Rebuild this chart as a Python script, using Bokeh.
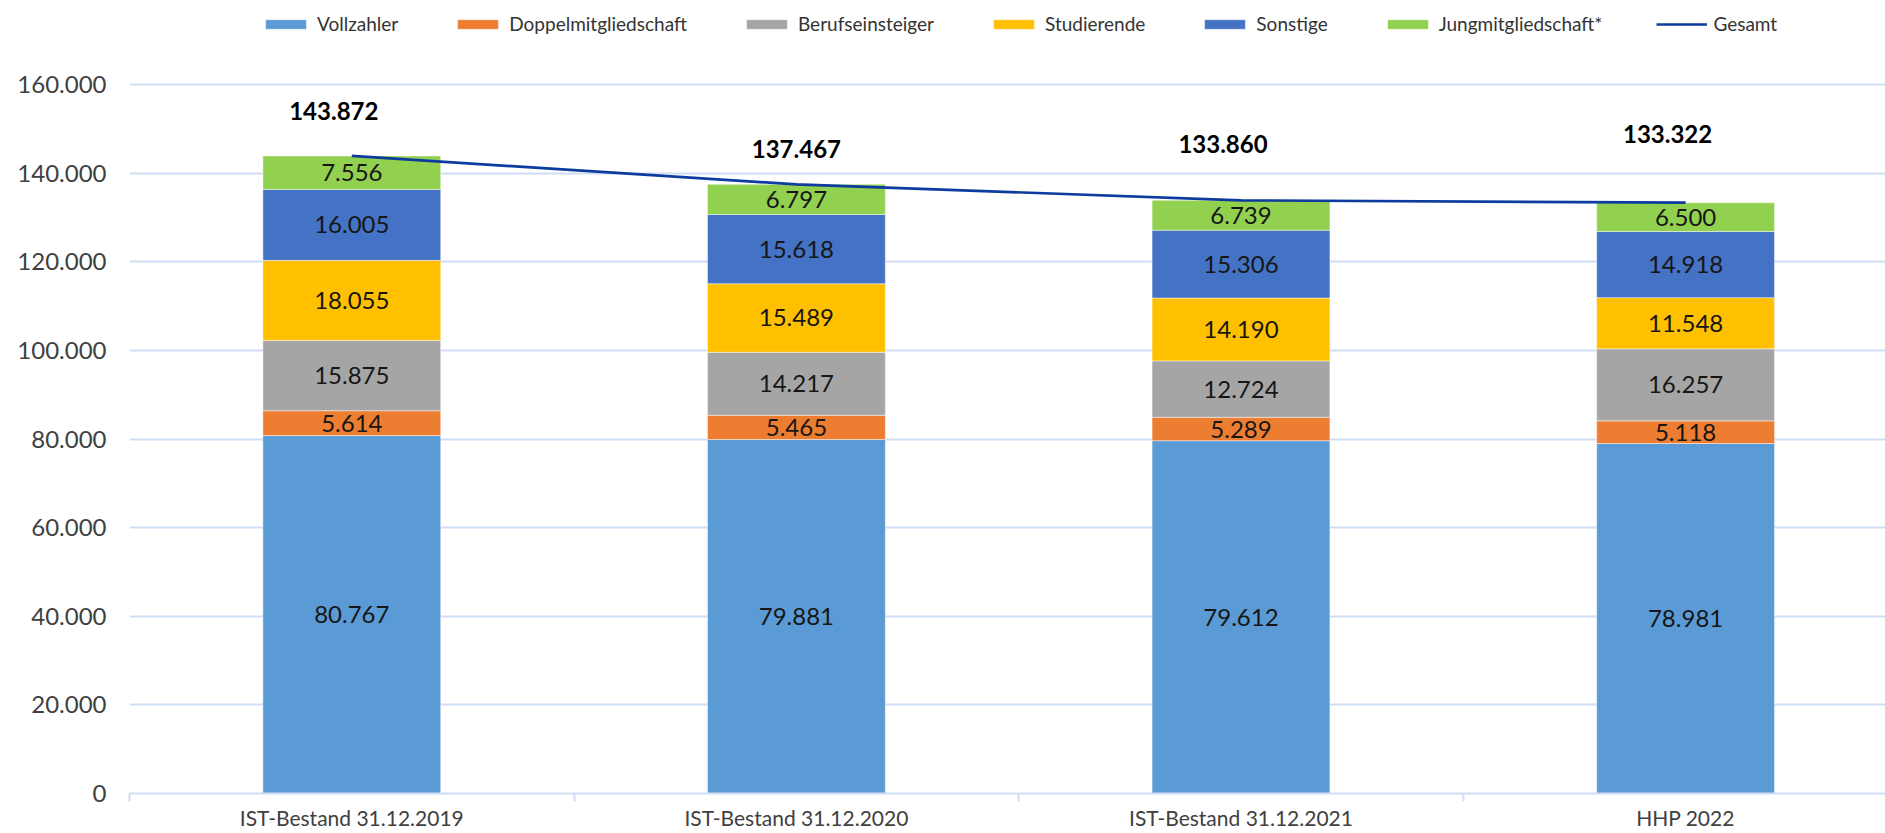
from bokeh.plotting import figure
from bokeh.models import (Range1d, FixedTicker, ColumnDataSource, LabelSet, Legend,
                          LegendItem)
from bokeh.core.properties import value
from bokeh.embed import file_html
from bokeh.resources import INLINE

# ---------------- data ----------------
categories = ["IST-Bestand 31.12.2019", "IST-Bestand 31.12.2020",
              "IST-Bestand 31.12.2021", "HHP 2022"]
series_names = ["Vollzahler", "Doppelmitgliedschaft", "Berufseinsteiger",
                "Studierende", "Sonstige", "Jungmitgliedschaft*"]
vollzahler = [80767, 79881, 79612, 78981]
doppelmitgliedschaft = [5614, 5465, 5289, 5118]
berufseinsteiger = [15875, 14217, 12724, 16257]
studierende = [18055, 15489, 14190, 11548]
sonstige = [16005, 15618, 15306, 14918]
jungmitgliedschaft = [7556, 6797, 6739, 6500]
gesamt = [143872, 137467, 133860, 133322]
y_ticks = [0, 20000, 40000, 60000, 80000, 100000, 120000, 140000, 160000]

# ---------------- style ----------------
colors = ["#5B9BD5", "#ED7D31", "#A5A5A5", "#FFC000", "#4472C4", "#92D050"]
line_color = "#0D3B9E"
grid_color = "#CFDEF6"
FONT = "Lato"
total_x_offsets = [-18, 0, -18, -18]   # px
total_y_offsets = [45, 35, 56, 69]     # px above bar top


def de_fmt(v):
    return f"{v:,}".replace(",", ".")


W, H = 1885, 833
LEFT, BOTTOM = 129, 40
PLOT_TOP_PX = 84            # where the 160.000 gridline sits
slot_px = 444.6
x_end = (W - LEFT) / slot_px
frame_h = H - BOTTOM
y_end = y_ticks[-1] * frame_h / (frame_h - PLOT_TOP_PX)

xs = [i + 0.5 for i in range(len(categories))]
series = [vollzahler, doppelmitgliedschaft, berufseinsteiger, studierende,
          sonstige, jungmitgliedschaft]

data = {"x": xs}
for name, vals in zip(series_names, series):
    data[name] = vals
src = ColumnDataSource(data)

p = figure(width=W, height=H, output_backend="svg", toolbar_location=None,
           x_range=Range1d(0, x_end), y_range=Range1d(0, y_end),
           min_border_left=LEFT, min_border_right=0, min_border_top=0,
           min_border_bottom=BOTTOM)
p.outline_line_color = None
p.background_fill_color = "white"
p.border_fill_color = "white"

bars = p.vbar_stack(series_names, x="x", width=0.4, source=src, color=colors,
                    line_color="white", line_alpha=0.45, line_width=1)

# Gesamt line
gl = p.line(xs, gesamt, line_color=line_color, line_width=2.7)

# segment labels
lx, ly, lt = [], [], []
for i, x in enumerate(xs):
    base = 0
    for vals in series:
        v = vals[i]
        lx.append(x)
        ly.append(base + v / 2)
        lt.append(de_fmt(v))
        base += v
seg_src = ColumnDataSource(dict(x=lx, y=ly, t=lt))
p.add_layout(LabelSet(x="x", y="y", text="t", source=seg_src,
                      text_align="center", text_baseline="middle",
                      text_font=value(FONT), text_font_size="24px",
                      text_color="#161616"))

# total labels
tot_src = ColumnDataSource(dict(x=xs, y=gesamt, t=[de_fmt(v) for v in gesamt],
                                xo=total_x_offsets, yo=total_y_offsets))
p.add_layout(LabelSet(x="x", y="y", text="t", source=tot_src,
                      x_offset="xo", y_offset="yo",
                      text_align="center", text_baseline="middle",
                      text_font=value(FONT), text_font_size="24px",
                      text_font_style="bold", text_color="#000000"))

# axes
p.xgrid.grid_line_color = None
p.ygrid.grid_line_color = grid_color
p.ygrid.grid_line_width = 2
p.ygrid.ticker = FixedTicker(ticks=y_ticks)

ya = p.yaxis[0]
ya.ticker = FixedTicker(ticks=y_ticks)
ya.major_label_overrides = {t: de_fmt(t) for t in y_ticks}
ya.axis_line_color = None
ya.major_tick_line_color = None
ya.minor_tick_line_color = None
ya.major_tick_out = 0
ya.major_tick_in = 0
ya.major_label_standoff = 23
ya.major_label_text_font = FONT
ya.major_label_text_font_size = "24px"
ya.major_label_text_color = "#404040"

xa = p.xaxis[0]
xa.ticker = FixedTicker(ticks=xs, minor_ticks=list(range(len(categories) + 1)))
xa.major_label_overrides = {x: c for x, c in zip(xs, categories)}
xa.axis_line_color = grid_color
xa.axis_line_width = 2
xa.major_tick_line_color = None
xa.major_tick_out = 0
xa.major_tick_in = 0
xa.minor_tick_line_color = grid_color
xa.minor_tick_line_width = 2
xa.minor_tick_out = 8
xa.minor_tick_in = 0
xa.major_label_standoff = 3
xa.major_label_text_font = FONT
xa.major_label_text_font_size = "21px"
xa.major_label_text_color = "#404040"

# legend (inside the frame's empty top band)
items = [LegendItem(label=n, renderers=[r]) for n, r in zip(series_names, bars)]
items.append(LegendItem(label="Gesamt", renderers=[gl]))
legend = Legend(items=items, orientation="horizontal",
                location=(131, 758),
                glyph_width=51, glyph_height=12, label_standoff=6, spacing=54,
                padding=0, margin=0, border_line_color=None,
                background_fill_alpha=0,
                label_text_font=FONT, label_text_font_size="19px",
                label_text_color="#333333")
p.add_layout(legend, "center")

open("out.html", "w").write(file_html(p, INLINE))
